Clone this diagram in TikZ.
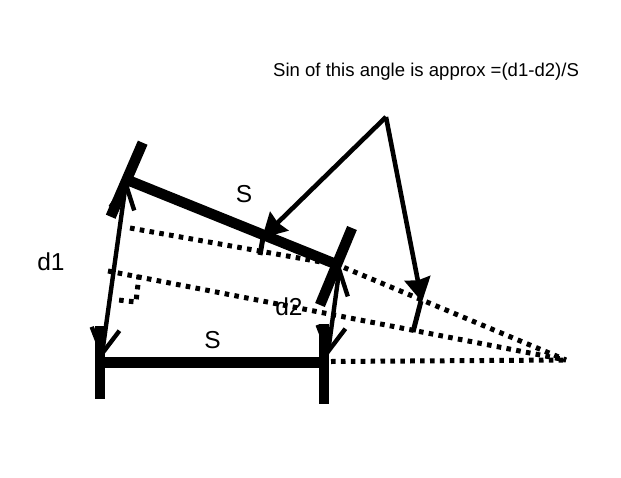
\documentclass[tikz,border=0pt]{standalone}
\usepackage{fontspec}
\setmainfont{Liberation Sans}
\usetikzlibrary{arrows.meta}
\tikzset{
  plate/.style={line width=10.5pt,line cap=butt},
  dots/.style={line width=5pt,dash pattern=on 4.6pt off 5.3pt},
  meas/.style={line width=4.4pt,{Straight Barb[length=25pt,width=24pt]}-{Straight Barb[length=25pt,width=28pt]}},
  pointer/.style={line width=4.6pt,-{Triangle[length=24pt,width=26pt,inset=2pt]}},
  tick/.style={line width=5pt},
  lab/.style={inner sep=0pt,font=\fontsize{24.5}{25}\selectfont}
}
\begin{document}
\begin{tikzpicture}[x=1pt,y=-1pt]
\useasboundingbox (0,0) rectangle (621,477);
% named points
\coordinate (LT) at (100,326); \coordinate (LB) at (100,399);
\coordinate (RT) at (324,324); \coordinate (RB) at (324,404);
\coordinate (LM) at (100,362.5); \coordinate (RM) at (324,362.5);
\coordinate (ULa) at (142.7,142.7); \coordinate (ULb) at (110.7,216.7);
\coordinate (URa) at (352,228); \coordinate (URb) at (320,305);
\coordinate (UM1) at (125,179); \coordinate (UM2) at (338,265);
\coordinate (V) at (566,360);
\coordinate (Da) at (130,228); \coordinate (Db) at (338,265);
\coordinate (Ea) at (108,271);
\coordinate (Fa) at (331,361.5);
\coordinate (Q1) at (139,275); \coordinate (Q2) at (136,302); \coordinate (Q3) at (114,299.5);
\coordinate (T1a) at (260,255); \coordinate (T1b) at (264,232);
\coordinate (T2a) at (413,332); \coordinate (T2b) at (421,301);
\coordinate (A) at (386,117);
\coordinate (P1) at (262,238); \coordinate (P2) at (422,302);
\coordinate (M1a) at (126.5,179); \coordinate (M1b) at (101.5,358);
\coordinate (M2a) at (340,265); \coordinate (M2b) at (327.5,356);
% measures
\draw[meas] (M1a) -- (M1b);
\draw[meas] (M2a) -- (M2b);
% plates
\draw[plate] (LT) -- (LB);
\draw[plate] (RT) -- (RB);
\draw[plate] (LM) -- (RM);
\draw[plate] (ULa) -- (ULb);
\draw[plate] (URa) -- (URb);
\draw[plate] (UM1) -- (UM2);
% dotted rays
\draw[dots] (Da) -- (Db) -- (V);
\draw[dots] (Ea) -- (V);
\draw[dots] (Fa) -- (V);
\draw[dots] (Q1) -- (Q2) -- (Q3);
% angle ticks
\draw[tick] (T1a) -- (T1b);
\draw[tick] (T2a) -- (T2b);
% pointers
\draw[pointer] (A) -- (P1);
\draw[pointer] (A) -- (P2);
% labels
\node[inner sep=0pt,anchor=west,font=\fontsize{18.55}{20}\selectfont] (title) at (273,72) {Sin of this angle is approx =(d1-d2)/S};
\node[lab] (s1) at (244,194.5) {S};
\node[lab] (s2) at (212.5,340) {S};
\node[lab] (d1) at (51,262) {d1};
\node[lab] (d2) at (289,307) {d2};
\end{tikzpicture}
\end{document}
